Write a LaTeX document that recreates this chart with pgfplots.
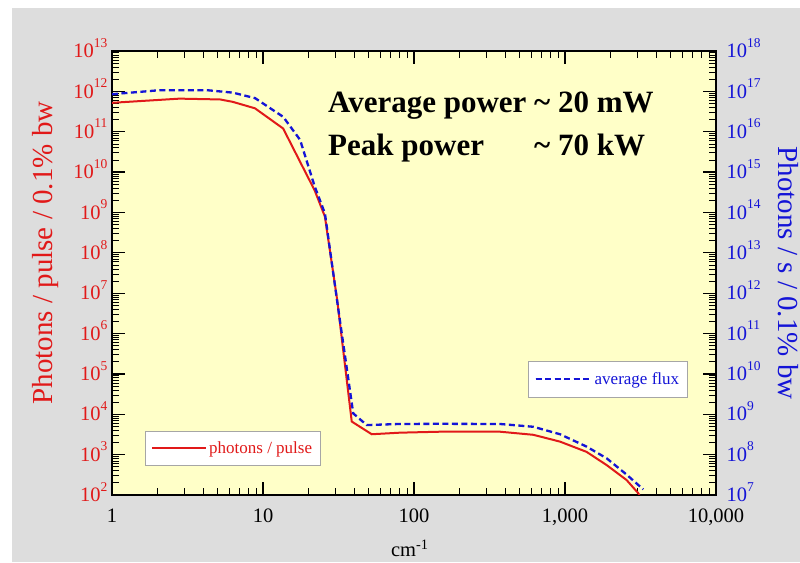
\documentclass[border=0pt]{standalone}
\usepackage{fontspec}
\setmainfont{Liberation Serif}
\usepackage{pgfplots}
\pgfplotsset{compat=1.18}
\definecolor{bggray}{RGB}{221,221,221}
\definecolor{plotyellow}{RGB}{255,255,200}
\definecolor{myred}{RGB}{225,25,25}
\definecolor{myblue}{RGB}{20,20,215}
\newcommand\tl[1]{{\fontsize{20.5}{24}\selectfont 10\smash{\raisebox{10.5pt}{\fontsize{13.5}{14}\selectfont #1}}}}
\newcommand\xl[1]{{\fontsize{20.5}{24}\selectfont #1}}
\begin{document}
\begin{tikzpicture}[x=1pt,y=1pt]
\useasboundingbox (0,0) rectangle (800,562);
\fill[bggray] (12,0) rectangle (800,554);
\begin{axis}[
  at={(112pt,67pt)}, anchor=south west,
  scale only axis, width=604pt, height=444pt,
  xmode=log, ymode=log,
  xmin=1, xmax=10000, ymin=1e2, ymax=1e13,
  axis background/.style={fill=plotyellow},
  axis line style={line width=2pt},
  tick align=inside,
  major tick length=13pt, minor tick length=7pt,
  every major tick/.style={line width=1.2pt, black},
  every minor tick/.style={line width=0.7pt, black},
  xtick pos=both, ytick pos=left,
  xtickten={0,...,4},
  xticklabels={\xl{1},\xl{10},\xl{100},\xl{1,000},\xl{10,000}},
  xticklabel style={yshift=-10pt},
  ytickten={2,...,13},
  yticklabels={\tl{2},\tl{3},\tl{4},\tl{5},\tl{6},\tl{7},\tl{8},\tl{9},\tl{10},\tl{11},\tl{12},\tl{13}},
  yticklabel style={text=myred, xshift=-1pt},
  xlabel={cm\textsuperscript{-1}},
  every axis x label/.style={at={(rel axis cs:0.493,-0.1396)}, anchor=base, font=\fontsize{20.5}{24}\selectfont},
  ylabel={Photons / pulse / 0.1\% bw},
  every axis y label/.style={at={(rel axis cs:-0.1093,0.545)}, rotate=90, anchor=center, font=\fontsize{29}{33}\selectfont, text=myred},
  legend style={at={(0.0546,0.0676)}, anchor=south west, draw=gray!70, fill=white,
    font=\fontsize{17}{20}\selectfont, text=myred, inner xsep=6pt, inner ysep=8pt},
  legend image code/.code={\path (0pt,0pt) -- (54pt,0pt); \draw[#1] (0pt,0pt) -- (49pt,0pt);},
]
\addplot[myred, line width=2pt] coordinates {
(1,5.2e11) (2.8,6.6e11) (5.2,6.3e11) (6.3,5.5e11) (8.85,3.8e11) (13.6,1.2e11)
(22,3.5e9) (25.7,7.9e8) (31,6.8e6) (38.7,6.6e3) (52.5,3.2e3) (80.7,3.5e3)
(150,3.7e3) (371,3.7e3) (617,3.1e3) (927,2.1e3) (1390,1.17e3) (1888,550)
(2559,234) (3061,110) (3200,80)
};
\addlegendentry{photons / pulse}
\end{axis}
\begin{axis}[
  at={(112pt,67pt)}, anchor=south west,
  scale only axis, width=604pt, height=444pt,
  xmode=log, ymode=log,
  xmin=1, xmax=10000, ymin=1e7, ymax=1e18,
  axis x line=none, axis y line*=right,
  axis line style={line width=2pt},
  tick align=inside,
  major tick length=13pt, minor tick length=7pt,
  every major tick/.style={line width=1.2pt, black},
  every minor tick/.style={line width=0.7pt, black},
  ytickten={7,...,18},
  yticklabels={\tl{7},\tl{8},\tl{9},\tl{10},\tl{11},\tl{12},\tl{13},\tl{14},\tl{15},\tl{16},\tl{17},\tl{18}},
  yticklabel style={text=myblue, xshift=7pt},
  ylabel={Photons / s / 0.1\% bw},
  every axis y label/.style={at={(rel axis cs:1.119,0.5)}, rotate=-90, anchor=center, font=\fontsize{29}{33}\selectfont, text=myblue},
  legend style={at={(0.689,0.2207)}, anchor=south west, draw=gray!70, fill=white,
    font=\fontsize{17}{20}\selectfont, text=myblue, inner xsep=6pt, inner ysep=9pt},
  legend image code/.code={\path (0pt,0pt) -- (56pt,0pt); \draw[#1] (0pt,0pt) -- (50pt,0pt);},
]
\addplot[myblue, line width=2.3pt, dash pattern=on 6pt off 3.5pt] coordinates {
(1,8.5e16) (2.08,1.07e17) (4.24,1.07e17) (6.3,9.3e16) (8.85,6.8e16) (13.6,2.34e16)
(17.6,6.3e15) (22,4.4e14) (25.7,9.5e13) (30.9,6.8e11) (39.6,1.05e9) (48.6,5.4e8)
(80.7,5.75e8) (150,5.8e8) (371,5.75e8) (617,4.9e8) (927,3.2e8) (1390,1.58e8)
(1888,8.1e7) (2559,3.2e7) (3296,1.38e7)
};
\addlegendentry{average flux}
\end{axis}
\node[anchor=base west, inner sep=0pt, font=\bfseries\fontsize{31}{43}\selectfont] at (328,449)
  {\begin{tabular}[t]{@{}l@{ }l@{}}Average power & \textasciitilde{} 20 mW\\ Peak power & \textasciitilde{} 70 kW\end{tabular}};
\end{tikzpicture}
\end{document}
